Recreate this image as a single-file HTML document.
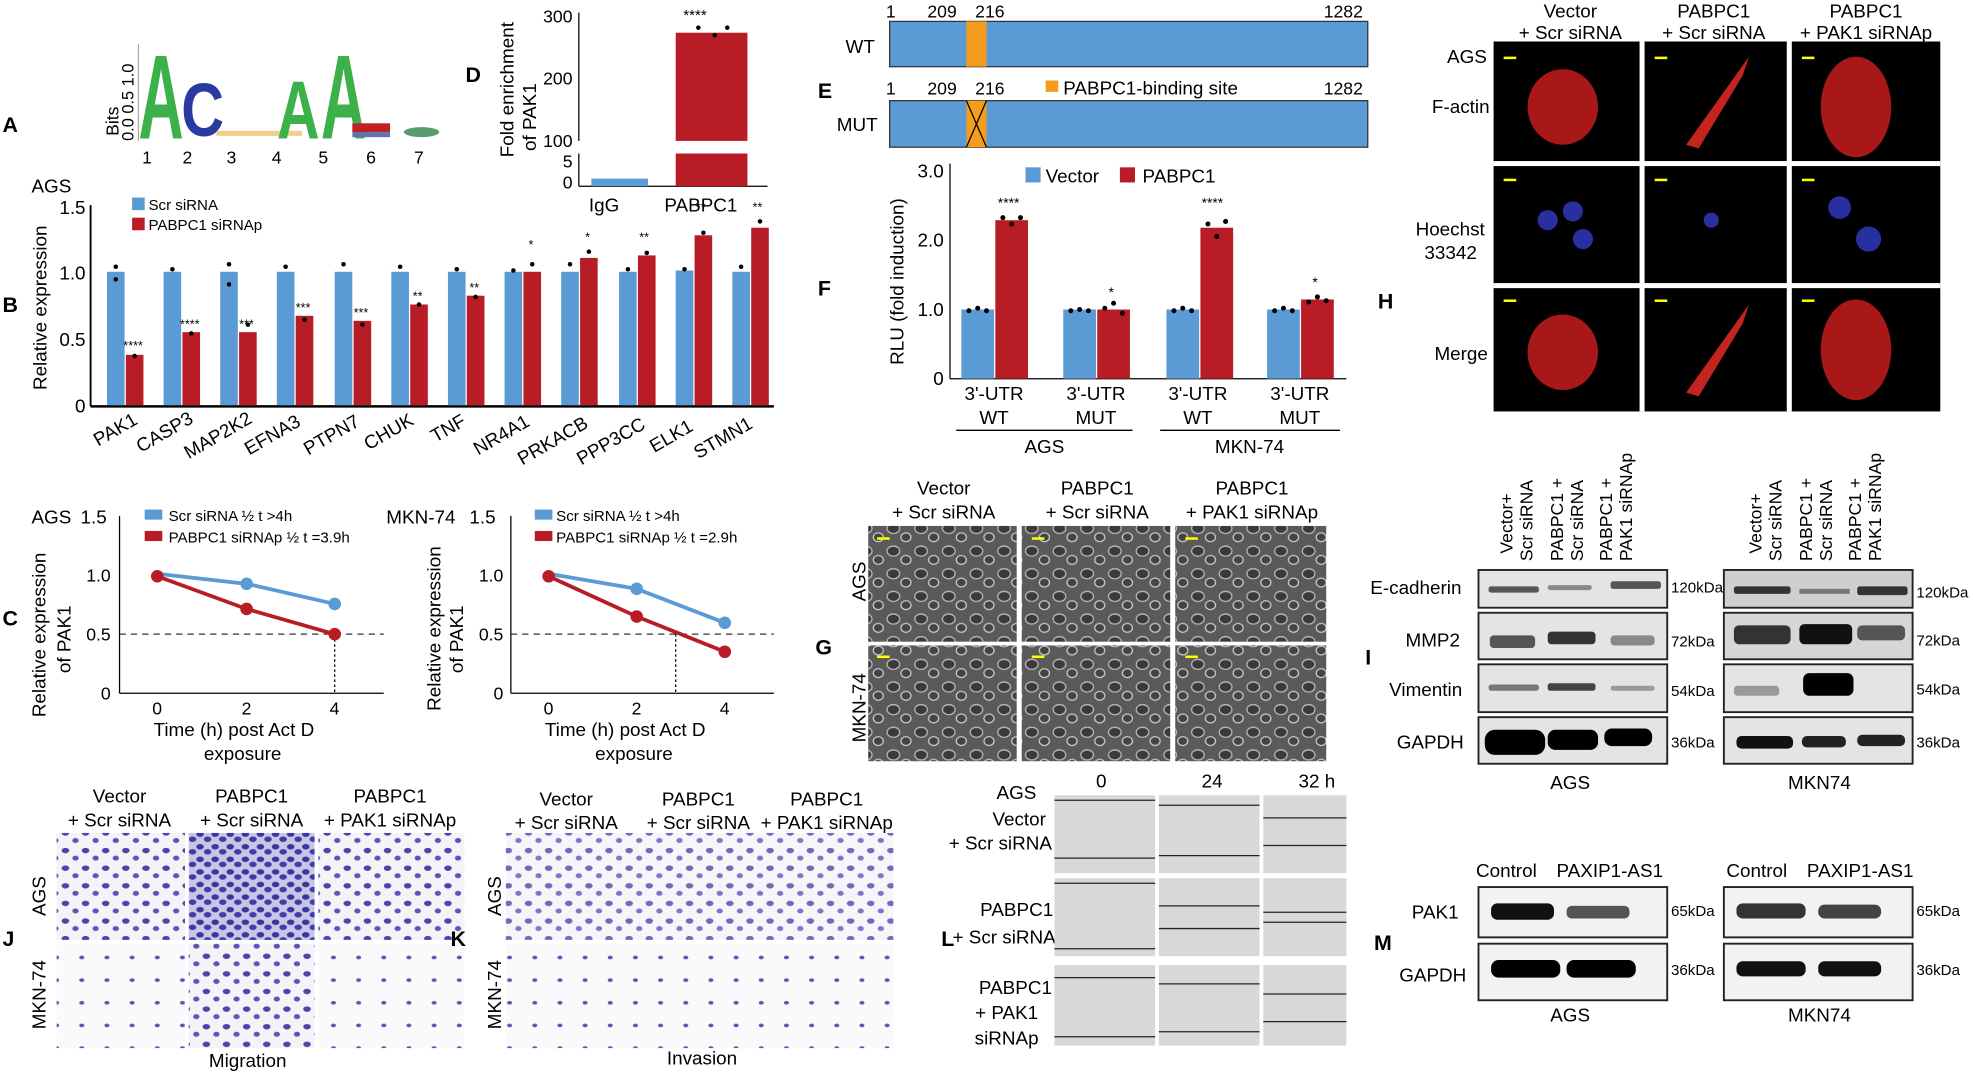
<!DOCTYPE html>
<html><head><meta charset="utf-8"><style>
html,body{margin:0;padding:0;background:#fff;}
svg{display:block;font-family:"Liberation Sans",Arial,sans-serif;}
</style></head><body>
<svg width="1973" height="1072" viewBox="0 0 1568 852" preserveAspectRatio="none" xmlns="http://www.w3.org/2000/svg">
<defs>
<pattern id="cells" width="22" height="18" patternUnits="userSpaceOnUse">
<rect width="22" height="18" fill="#5a5a5a"/>
<ellipse cx="6" cy="6" rx="5" ry="4" fill="#3a3a3a" stroke="#bbb" stroke-width="1"/>
<ellipse cx="16" cy="13" rx="4" ry="3.5" fill="#444" stroke="#ccc" stroke-width="1"/>
</pattern>
<pattern id="purp" width="16" height="14" patternUnits="userSpaceOnUse">
<rect width="16" height="14" fill="#f4f3f8"/>
<ellipse cx="4" cy="4" rx="3" ry="2.2" fill="#4a46a8"/>
<ellipse cx="12" cy="10" rx="2.5" ry="2" fill="#5a56b8"/>
</pattern>
<pattern id="purpd" width="12" height="10" patternUnits="userSpaceOnUse">
<rect width="12" height="10" fill="#c8c6e6"/>
<ellipse cx="3" cy="3" rx="3" ry="2.2" fill="#3a36a0"/>
<ellipse cx="9" cy="7" rx="3" ry="2.2" fill="#403ca8"/>
</pattern>
<pattern id="purps" width="20" height="18" patternUnits="userSpaceOnUse">
<rect width="20" height="18" fill="#fafafc"/>
<ellipse cx="5" cy="5" rx="2" ry="1.5" fill="#5a56b8"/>
</pattern>
</defs>
<g font-size="15" fill="#000">
<!-- A -->
<text x="2" y="105" font-size="17" font-weight="bold">A</text>
<text transform="translate(94,108) rotate(-90)" font-size="14">Bits</text>
<text transform="translate(106,112) rotate(-90)" font-size="13">0.0 0.5 1.0</text>
<line x1="110" y1="35" x2="110" y2="112" stroke="#aaa"/>
<text x="110" y="110" font-size="95" font-weight="bold" fill="#3cb14a" textLength="36" lengthAdjust="spacingAndGlyphs">A</text>
<text x="144" y="108" font-size="60" font-weight="bold" fill="#2a3aa0" textLength="34" lengthAdjust="spacingAndGlyphs">C</text>
<rect x="172" y="104" width="68" height="4" fill="#e3b040" opacity=".6"/>
<text x="220" y="110" font-size="66" font-weight="bold" fill="#3cb14a" textLength="34" lengthAdjust="spacingAndGlyphs">A</text>
<text x="255" y="110" font-size="95" font-weight="bold" fill="#3cb14a" textLength="36" lengthAdjust="spacingAndGlyphs">A</text>
<rect x="280" y="98" width="30" height="7" fill="#c02020"/><rect x="280" y="105" width="30" height="4" fill="#6070b0"/>
<ellipse cx="335" cy="105" rx="14" ry="4" fill="#5a9a70"/>
<g font-size="14"><text x="113" y="130">1</text><text x="145" y="130">2</text><text x="180" y="130">3</text><text x="216" y="130">4</text><text x="253" y="130">5</text><text x="291" y="130">6</text><text x="329" y="130">7</text></g>

<!-- D -->
<text x="370" y="65" font-size="17" font-weight="bold">D</text>
<text transform="translate(408,125) rotate(-90)" font-size="15">Fold enrichment</text>
<text transform="translate(426,120) rotate(-90)" font-size="15">of PAK1</text>
<g font-size="14" text-anchor="end"><text x="455" y="18">300</text><text x="455" y="67">200</text><text x="455" y="117">100</text><text x="455" y="133">5</text><text x="455" y="150">0</text></g>
<line x1="460" y1="10" x2="460" y2="112" stroke="#000"/><line x1="460" y1="122" x2="460" y2="148" stroke="#000"/>
<line x1="460" y1="148" x2="610" y2="148" stroke="#000"/>
<rect x="470" y="142" width="45" height="6" fill="#5b9bd5"/>
<rect x="537" y="26" width="57" height="86" fill="#b81d25"/><rect x="537" y="122" width="57" height="26" fill="#b81d25"/>
<circle cx="555" cy="22" r="1.8"/><circle cx="568" cy="28" r="1.8"/><circle cx="578" cy="22" r="1.8"/>
<text x="543" y="16" font-size="12">****</text>
<text x="468" y="168" font-size="15">IgG</text><text x="528" y="168" font-size="15">PABPC1</text>

<!-- B -->
<text x="2" y="248" font-size="17" font-weight="bold">B</text>
<text x="25" y="153" font-size="15">AGS</text>
<text transform="translate(37,310) rotate(-90)" font-size="15">Relative expression</text>
<g font-size="15" text-anchor="end"><text x="68" y="170">1.5</text><text x="68" y="222">1.0</text><text x="68" y="275">0.5</text><text x="68" y="328">0</text></g>
<line x1="72" y1="163" x2="72" y2="323" stroke="#000" stroke-width="1.5"/>
<line x1="72" y1="323" x2="615" y2="323" stroke="#000" stroke-width="2"/>
<rect x="105" y="157" width="10" height="10" fill="#5b9bd5"/><text x="118" y="167" font-size="12">Scr siRNA</text>
<rect x="105" y="173" width="10" height="10" fill="#b81d25"/><text x="118" y="183" font-size="12">PABPC1 siRNAp</text>
<g fill="#5b9bd5">
<rect x="85" y="216" width="14" height="106"/><rect x="130" y="216" width="14" height="106"/><rect x="175" y="216" width="14" height="106"/><rect x="220" y="216" width="14" height="106"/><rect x="266" y="216" width="14" height="106"/><rect x="311" y="216" width="14" height="106"/><rect x="356" y="216" width="14" height="106"/><rect x="401" y="216" width="14" height="106"/><rect x="446" y="216" width="14" height="106"/><rect x="492" y="216" width="14" height="106"/><rect x="537" y="215" width="14" height="107"/><rect x="582" y="216" width="14" height="106"/>
</g>
<g fill="#b81d25">
<rect x="100" y="282" width="14" height="40"/><rect x="145" y="264" width="14" height="58"/><rect x="190" y="264" width="14" height="58"/><rect x="235" y="251" width="14" height="71"/><rect x="281" y="255" width="14" height="67"/><rect x="326" y="242" width="14" height="80"/><rect x="371" y="235" width="14" height="87"/><rect x="416" y="216" width="14" height="106"/><rect x="461" y="205" width="14" height="117"/><rect x="507" y="203" width="14" height="119"/><rect x="552" y="187" width="14" height="135"/><rect x="597" y="181" width="14" height="141"/>
</g>
<g>
<circle cx="92" cy="212" r="1.8"/><circle cx="92" cy="222" r="1.8"/><circle cx="137" cy="214" r="1.8"/><circle cx="182" cy="210" r="1.8"/><circle cx="182" cy="226" r="1.8"/><circle cx="227" cy="212" r="1.8"/><circle cx="273" cy="210" r="1.8"/><circle cx="318" cy="212" r="1.8"/><circle cx="363" cy="214" r="1.8"/><circle cx="408" cy="215" r="1.8"/><circle cx="453" cy="210" r="1.8"/><circle cx="499" cy="214" r="1.8"/><circle cx="544" cy="214" r="1.8"/><circle cx="589" cy="212" r="1.8"/>
<circle cx="107" cy="283" r="1.8"/><circle cx="152" cy="265" r="1.8"/><circle cx="197" cy="258" r="1.8"/><circle cx="242" cy="254" r="1.8"/><circle cx="288" cy="258" r="1.8"/><circle cx="333" cy="242" r="1.8"/><circle cx="378" cy="236" r="1.8"/><circle cx="423" cy="210" r="1.8"/><circle cx="468" cy="200" r="1.8"/><circle cx="514" cy="201" r="1.8"/><circle cx="559" cy="185" r="1.8"/><circle cx="604" cy="176" r="1.8"/>
</g>
<g font-size="10">
<text x="98" y="278">****</text><text x="143" y="261">****</text><text x="190" y="261">***</text><text x="235" y="248">***</text><text x="281" y="252">***</text><text x="328" y="239">**</text><text x="373" y="232">**</text><text x="420" y="198">*</text><text x="465" y="192">*</text><text x="508" y="192">**</text><text x="553" y="168">**</text><text x="598" y="168">**</text>
</g>
<g font-size="15">
<text transform="translate(78,355) rotate(-30)">PAK1</text><text transform="translate(112,360) rotate(-30)">CASP3</text><text transform="translate(150,365) rotate(-30)">MAP2K2</text><text transform="translate(198,362) rotate(-30)">EFNA3</text><text transform="translate(245,362) rotate(-30)">PTPN7</text><text transform="translate(293,358) rotate(-30)">CHUK</text><text transform="translate(346,352) rotate(-30)">TNF</text><text transform="translate(380,362) rotate(-30)">NR4A1</text><text transform="translate(415,370) rotate(-30)">PRKACB</text><text transform="translate(462,370) rotate(-30)">PPP3CC</text><text transform="translate(520,360) rotate(-30)">ELK1</text><text transform="translate(555,365) rotate(-30)">STMN1</text>
</g>

<!-- C -->
<text x="2" y="497" font-size="17" font-weight="bold">C</text>
<text x="25" y="416" font-size="15">AGS</text><text x="64" y="416" font-size="15">1.5</text>
<text transform="translate(36,570) rotate(-90)" font-size="15">Relative expression</text>
<text transform="translate(56,535) rotate(-90)" font-size="15">of PAK1</text>
<g font-size="14" text-anchor="end"><text x="88" y="462">1.0</text><text x="88" y="509">0.5</text><text x="88" y="556">0</text></g>
<line x1="95" y1="410" x2="95" y2="551" stroke="#000"/><line x1="95" y1="551" x2="305" y2="551" stroke="#000"/>
<line x1="95" y1="504" x2="305" y2="504" stroke="#333" stroke-dasharray="5,4"/>
<line x1="266" y1="504" x2="266" y2="551" stroke="#000" stroke-dasharray="2,2"/>
<rect x="115" y="405" width="14" height="8" fill="#5b9bd5"/><text x="134" y="414" font-size="12">Scr siRNA ½ t &gt;4h</text>
<rect x="115" y="422" width="14" height="8" fill="#b81d25"/><text x="134" y="431" font-size="12">PABPC1 siRNAp ½ t =3.9h</text>
<polyline points="125,456 196,464 266,480" fill="none" stroke="#5b9bd5" stroke-width="3"/>
<polyline points="125,458 196,484 266,504" fill="none" stroke="#b81d25" stroke-width="3"/>
<circle cx="196" cy="464" r="5" fill="#5b9bd5"/><circle cx="266" cy="480" r="5" fill="#5b9bd5"/>
<circle cx="125" cy="458" r="5" fill="#b81d25"/><circle cx="196" cy="484" r="5" fill="#b81d25"/><circle cx="266" cy="504" r="5" fill="#b81d25"/>
<g font-size="14"><text x="121" y="568">0</text><text x="192" y="568">2</text><text x="262" y="568">4</text></g>
<text x="122" y="585" font-size="15">Time (h) post Act D</text><text x="162" y="604" font-size="15">exposure</text>

<text x="307" y="416" font-size="15">MKN-74</text><text x="373" y="416" font-size="15">1.5</text>
<text transform="translate(350,565) rotate(-90)" font-size="15">Relative expression</text>
<text transform="translate(368,535) rotate(-90)" font-size="15">of PAK1</text>
<g font-size="14" text-anchor="end"><text x="400" y="462">1.0</text><text x="400" y="509">0.5</text><text x="400" y="556">0</text></g>
<line x1="406" y1="410" x2="406" y2="551" stroke="#000"/><line x1="406" y1="551" x2="615" y2="551" stroke="#000"/>
<line x1="406" y1="504" x2="615" y2="504" stroke="#333" stroke-dasharray="5,4"/>
<line x1="537" y1="504" x2="537" y2="551" stroke="#000" stroke-dasharray="2,2"/>
<rect x="425" y="405" width="14" height="8" fill="#5b9bd5"/><text x="442" y="414" font-size="12">Scr siRNA ½ t &gt;4h</text>
<rect x="425" y="422" width="14" height="8" fill="#b81d25"/><text x="442" y="431" font-size="12">PABPC1 siRNAp ½ t =2.9h</text>
<polyline points="436,456 506,468 576,495" fill="none" stroke="#5b9bd5" stroke-width="3"/>
<polyline points="436,458 506,490 576,518" fill="none" stroke="#b81d25" stroke-width="3"/>
<circle cx="506" cy="468" r="5" fill="#5b9bd5"/><circle cx="576" cy="495" r="5" fill="#5b9bd5"/>
<circle cx="436" cy="458" r="5" fill="#b81d25"/><circle cx="506" cy="490" r="5" fill="#b81d25"/><circle cx="576" cy="518" r="5" fill="#b81d25"/>
<g font-size="14"><text x="432" y="568">0</text><text x="502" y="568">2</text><text x="572" y="568">4</text></g>
<text x="433" y="585" font-size="15">Time (h) post Act D</text><text x="473" y="604" font-size="15">exposure</text>

<!-- E -->
<text x="650" y="78" font-size="17" font-weight="bold">E</text>
<text x="704" y="14" font-size="14">1</text><text x="737" y="14" font-size="14">209</text><text x="775" y="14" font-size="14">216</text><text x="1052" y="14" font-size="14">1282</text>
<text x="672" y="42" font-size="15">WT</text>
<rect x="707" y="17" width="380" height="36" fill="#5b9bd5" stroke="#333"/><rect x="768" y="17" width="16" height="36" fill="#f39c1e"/>
<text x="704" y="75" font-size="14">1</text><text x="737" y="75" font-size="14">209</text><text x="775" y="75" font-size="14">216</text><text x="1052" y="75" font-size="14">1282</text>
<rect x="831" y="64" width="10" height="9" fill="#f39c1e"/><text x="845" y="75" font-size="15">PABPC1-binding site</text>
<text x="665" y="104" font-size="15">MUT</text>
<rect x="707" y="80" width="380" height="37" fill="#5b9bd5" stroke="#333"/><rect x="768" y="80" width="16" height="37" fill="#f39c1e"/>
<line x1="768" y1="80" x2="784" y2="117" stroke="#000"/><line x1="784" y1="80" x2="768" y2="117" stroke="#000"/>

<!-- F -->
<text x="650" y="235" font-size="17" font-weight="bold">F</text>
<text transform="translate(718,290) rotate(-90)" font-size="15">RLU (fold induction)</text>
<g font-size="15" text-anchor="end"><text x="750" y="141">3.0</text><text x="750" y="196">2.0</text><text x="750" y="251">1.0</text><text x="750" y="306">0</text></g>
<line x1="755" y1="130" x2="755" y2="301" stroke="#000"/><line x1="755" y1="301" x2="1070" y2="301" stroke="#000"/>
<rect x="815" y="133" width="12" height="12" fill="#5b9bd5"/><text x="831" y="145" font-size="15">Vector</text>
<rect x="890" y="133" width="12" height="12" fill="#b81d25"/><text x="908" y="145" font-size="15">PABPC1</text>
<g fill="#5b9bd5"><rect x="764" y="246" width="26" height="55"/><rect x="845" y="246" width="26" height="55"/><rect x="927" y="246" width="26" height="55"/><rect x="1007" y="246" width="26" height="55"/></g>
<g fill="#b81d25"><rect x="791" y="175" width="26" height="126"/><rect x="872" y="246" width="26" height="55"/><rect x="954" y="181" width="26" height="120"/><rect x="1034" y="238" width="26" height="63"/></g>
<g><circle cx="797" cy="173" r="2"/><circle cx="804" cy="178" r="2"/><circle cx="811" cy="173" r="2"/><circle cx="878" cy="245" r="2"/><circle cx="885" cy="241" r="2"/><circle cx="892" cy="249" r="2"/><circle cx="960" cy="178" r="2"/><circle cx="967" cy="188" r="2"/><circle cx="974" cy="176" r="2"/><circle cx="1040" cy="240" r="2"/><circle cx="1047" cy="236" r="2"/><circle cx="1054" cy="239" r="2"/>
<circle cx="770" cy="247" r="2"/><circle cx="777" cy="245" r="2"/><circle cx="784" cy="247" r="2"/><circle cx="851" cy="247" r="2"/><circle cx="858" cy="246" r="2"/><circle cx="865" cy="247" r="2"/><circle cx="933" cy="247" r="2"/><circle cx="940" cy="245" r="2"/><circle cx="947" cy="247" r="2"/><circle cx="1013" cy="247" r="2"/><circle cx="1020" cy="245" r="2"/><circle cx="1027" cy="247" r="2"/></g>
<g font-size="11"><text x="793" y="165">****</text><text x="881" y="236">*</text><text x="955" y="165">****</text><text x="1043" y="228">*</text></g>
<g font-size="15" text-anchor="middle"><text x="790" y="318">3'-UTR</text><text x="790" y="337">WT</text><text x="871" y="318">3'-UTR</text><text x="871" y="337">MUT</text><text x="952" y="318">3'-UTR</text><text x="952" y="337">WT</text><text x="1033" y="318">3'-UTR</text><text x="1033" y="337">MUT</text>
<text x="830" y="360">AGS</text><text x="993" y="360">MKN-74</text></g>
<line x1="760" y1="342" x2="900" y2="342" stroke="#000"/><line x1="922" y1="342" x2="1065" y2="342" stroke="#000"/>

<!-- G -->
<g font-size="15" text-anchor="middle"><text x="750" y="393">Vector</text><text x="750" y="412">+ Scr siRNA</text><text x="872" y="393">PABPC1</text><text x="872" y="412">+ Scr siRNA</text><text x="995" y="393">PABPC1</text><text x="995" y="412">+ PAK1 siRNAp</text></g>
<text x="648" y="520" font-size="17" font-weight="bold">G</text>
<text transform="translate(688,478) rotate(-90)" font-size="15">AGS</text>
<text transform="translate(688,590) rotate(-90)" font-size="15">MKN-74</text>
<g fill="url(#cells)"><rect x="690" y="418" width="118" height="92"/><rect x="812" y="418" width="118" height="92"/><rect x="934" y="418" width="120" height="92"/><rect x="690" y="513" width="118" height="92"/><rect x="812" y="513" width="118" height="92"/><rect x="934" y="513" width="120" height="92"/></g>
<g fill="#ff0"><rect x="697" y="427" width="10" height="2"/><rect x="820" y="427" width="10" height="2"/><rect x="942" y="427" width="10" height="2"/><rect x="697" y="521" width="10" height="2"/><rect x="820" y="521" width="10" height="2"/><rect x="942" y="521" width="10" height="2"/></g>

<!-- H -->
<g font-size="15" text-anchor="middle"><text x="1248" y="14">Vector</text><text x="1248" y="31">+ Scr siRNA</text><text x="1362" y="14">PABPC1</text><text x="1362" y="31">+ Scr siRNA</text><text x="1483" y="14">PABPC1</text><text x="1483" y="31">+ PAK1 siRNAp</text></g>
<text x="1150" y="50" font-size="15">AGS</text><text x="1138" y="90" font-size="15">F-actin</text>
<text x="1125" y="187" font-size="15">Hoechst</text><text x="1132" y="206" font-size="15">33342</text>
<text x="1140" y="286" font-size="15">Merge</text>
<text x="1095" y="245" font-size="17" font-weight="bold">H</text>
<rect x="1187" y="33" width="355" height="294" fill="#000"/>
<rect x="1303" y="33" width="4" height="294" fill="#fff"/><rect x="1420" y="33" width="4" height="294" fill="#fff"/>
<rect x="1187" y="128" width="355" height="4" fill="#fff"/><rect x="1187" y="225" width="355" height="4" fill="#fff"/>
<ellipse cx="1242" cy="85" rx="28" ry="30" fill="#a81818"/><path d="M1340,115 L1390,45 L1385,60 L1350,118 Z" fill="#c42420"/>
<ellipse cx="1475" cy="85" rx="28" ry="40" fill="#a81818"/>
<circle cx="1230" cy="175" r="8" fill="#2830a0"/><circle cx="1250" cy="168" r="8" fill="#2830a0"/><circle cx="1258" cy="190" r="8" fill="#2830a0"/><circle cx="1360" cy="175" r="6" fill="#2830a0"/><circle cx="1462" cy="165" r="9" fill="#2830a0"/><circle cx="1485" cy="190" r="10" fill="#2830a0"/>
<ellipse cx="1242" cy="280" rx="28" ry="30" fill="#a81818"/><path d="M1340,312 L1390,242 L1385,257 L1350,315 Z" fill="#c42420"/>
<ellipse cx="1475" cy="278" rx="28" ry="40" fill="#a81818"/>
<g fill="#ff0"><rect x="1195" y="45" width="10" height="2"/><rect x="1315" y="45" width="10" height="2"/><rect x="1432" y="45" width="10" height="2"/><rect x="1195" y="142" width="10" height="2"/><rect x="1315" y="142" width="10" height="2"/><rect x="1432" y="142" width="10" height="2"/><rect x="1195" y="238" width="10" height="2"/><rect x="1315" y="238" width="10" height="2"/><rect x="1432" y="238" width="10" height="2"/></g>

<!-- I -->
<g font-size="14">
<text transform="translate(1202,440) rotate(-90)">Vector+</text><text transform="translate(1218,446) rotate(-90)">Scr siRNA</text>
<text transform="translate(1242,446) rotate(-90)">PABPC1 +</text><text transform="translate(1258,446) rotate(-90)">Scr siRNA</text>
<text transform="translate(1281,446) rotate(-90)">PABPC1 +</text><text transform="translate(1297,446) rotate(-90)">PAK1 siRNAp</text>
<text transform="translate(1400,440) rotate(-90)">Vector+</text><text transform="translate(1416,446) rotate(-90)">Scr siRNA</text>
<text transform="translate(1440,446) rotate(-90)">PABPC1 +</text><text transform="translate(1456,446) rotate(-90)">Scr siRNA</text>
<text transform="translate(1479,446) rotate(-90)">PABPC1 +</text><text transform="translate(1495,446) rotate(-90)">PAK1 siRNAp</text>
</g>
<text x="1089" y="472" font-size="15">E-cadherin</text><text x="1117" y="514" font-size="15">MMP2</text><text x="1104" y="553" font-size="15">Vimentin</text><text x="1110" y="595" font-size="15">GAPDH</text>
<text x="1085" y="528" font-size="17" font-weight="bold">I</text>
<g fill="#e4e4e4" stroke="#222" stroke-width="1.5">
<rect x="1175" y="453" width="150" height="30"/><rect x="1175" y="487" width="150" height="37"/><rect x="1175" y="528" width="150" height="38"/><rect x="1175" y="570" width="150" height="37"/>
<rect x="1370" y="453" width="150" height="30" fill="#cfcfcf"/><rect x="1370" y="487" width="150" height="37" fill="#d6d6d6"/><rect x="1370" y="528" width="150" height="38"/><rect x="1370" y="570" width="150" height="37"/>
</g>
<g fill="#555">
<rect x="1183" y="466" width="40" height="5" rx="2"/><rect x="1230" y="465" width="35" height="4" rx="2" fill="#888"/><rect x="1280" y="462" width="40" height="6" rx="2"/>
<rect x="1184" y="505" width="36" height="10" rx="3"/><rect x="1230" y="502" width="38" height="10" rx="3" fill="#333"/><rect x="1280" y="505" width="35" height="8" rx="3" fill="#888"/>
<rect x="1183" y="544" width="40" height="5" rx="2" fill="#777"/><rect x="1230" y="543" width="38" height="6" rx="2" fill="#444"/><rect x="1280" y="545" width="35" height="4" rx="2" fill="#999"/>
<rect x="1180" y="580" width="48" height="20" rx="8" fill="#000"/><rect x="1230" y="580" width="40" height="16" rx="6" fill="#000"/><rect x="1275" y="579" width="38" height="14" rx="6" fill="#000"/>
<rect x="1378" y="466" width="45" height="6" rx="2" fill="#333"/><rect x="1430" y="468" width="40" height="4" fill="#777"/><rect x="1476" y="466" width="40" height="7" rx="2" fill="#333"/>
<rect x="1378" y="497" width="45" height="15" rx="4" fill="#333"/><rect x="1430" y="496" width="42" height="16" rx="4" fill="#111"/><rect x="1476" y="497" width="38" height="12" rx="4" fill="#555"/>
<rect x="1378" y="545" width="36" height="8" rx="3" fill="#999"/><rect x="1433" y="535" width="40" height="18" rx="5" fill="#000"/>
<rect x="1380" y="585" width="45" height="10" rx="4" fill="#111"/><rect x="1432" y="585" width="35" height="9" rx="4" fill="#222"/><rect x="1476" y="584" width="38" height="9" rx="4" fill="#222"/>
</g>
<g font-size="12"><text x="1328" y="471">120kDa</text><text x="1328" y="514">72kDa</text><text x="1328" y="553">54kDa</text><text x="1328" y="594">36kDa</text>
<text x="1523" y="475">120kDa</text><text x="1523" y="513">72kDa</text><text x="1523" y="552">54kDa</text><text x="1523" y="594">36kDa</text></g>
<text x="1232" y="627" font-size="15">AGS</text><text x="1421" y="627" font-size="15">MKN74</text>

<!-- M -->
<text x="1173" y="697" font-size="15">Control</text><text x="1237" y="697" font-size="15">PAXIP1-AS1</text>
<text x="1372" y="697" font-size="15">Control</text><text x="1436" y="697" font-size="15">PAXIP1-AS1</text>
<text x="1122" y="730" font-size="15">PAK1</text><text x="1112" y="780" font-size="15">GAPDH</text>
<text x="1092" y="755" font-size="17" font-weight="bold">M</text>
<g fill="#f2f2f2" stroke="#222" stroke-width="1.5">
<rect x="1175" y="705" width="150" height="40"/><rect x="1175" y="750" width="150" height="45"/>
<rect x="1370" y="705" width="150" height="40"/><rect x="1370" y="750" width="150" height="45"/>
</g>
<rect x="1185" y="718" width="50" height="13" rx="5" fill="#111"/><rect x="1245" y="720" width="50" height="10" rx="4" fill="#555"/>
<rect x="1185" y="763" width="55" height="14" rx="6" fill="#000"/><rect x="1245" y="763" width="55" height="14" rx="6" fill="#000"/>
<rect x="1380" y="718" width="55" height="12" rx="5" fill="#333"/><rect x="1445" y="719" width="50" height="11" rx="5" fill="#444"/>
<rect x="1380" y="764" width="55" height="12" rx="5" fill="#111"/><rect x="1445" y="764" width="50" height="12" rx="5" fill="#111"/>
<g font-size="12"><text x="1328" y="728">65kDa</text><text x="1328" y="775">36kDa</text><text x="1523" y="728">65kDa</text><text x="1523" y="775">36kDa</text></g>
<text x="1232" y="812" font-size="15">AGS</text><text x="1421" y="812" font-size="15">MKN74</text>

<!-- J -->
<g font-size="15" text-anchor="middle"><text x="95" y="638">Vector</text><text x="95" y="657">+ Scr siRNA</text><text x="200" y="638">PABPC1</text><text x="200" y="657">+ Scr siRNA</text><text x="310" y="638">PABPC1</text><text x="310" y="657">+ PAK1 siRNAp</text></g>
<text x="2" y="752" font-size="17" font-weight="bold">J</text>
<text transform="translate(36,728) rotate(-90)" font-size="15">AGS</text>
<text transform="translate(36,818) rotate(-90)" font-size="15">MKN-74</text>
<rect x="45" y="662" width="102" height="85" fill="url(#purp)"/><rect x="150" y="662" width="100" height="85" fill="url(#purpd)"/><rect x="253" y="662" width="116" height="85" fill="url(#purp)"/>
<rect x="45" y="750" width="102" height="83" fill="url(#purps)"/><rect x="150" y="750" width="100" height="83" fill="url(#purp)"/><rect x="253" y="750" width="116" height="83" fill="url(#purps)"/>
<text x="166" y="848" font-size="15">Migration</text>

<!-- K -->
<g font-size="15" text-anchor="middle"><text x="450" y="640">Vector</text><text x="450" y="659">+ Scr siRNA</text><text x="555" y="640">PABPC1</text><text x="555" y="659">+ Scr siRNA</text><text x="657" y="640">PABPC1</text><text x="657" y="659">+ PAK1 siRNAp</text></g>
<text x="358" y="752" font-size="17" font-weight="bold">K</text>
<text transform="translate(398,728) rotate(-90)" font-size="15">AGS</text>
<text transform="translate(398,818) rotate(-90)" font-size="15">MKN-74</text>
<rect x="402" y="662" width="308" height="85" fill="url(#purp)" opacity=".8"/>
<rect x="402" y="750" width="308" height="83" fill="url(#purps)"/>
<text x="530" y="846" font-size="15">Invasion</text>

<!-- L -->
<text x="792" y="635" font-size="15">AGS</text>
<text x="871" y="626" font-size="15">0</text><text x="955" y="626" font-size="15">24</text><text x="1032" y="626" font-size="15">32 h</text>
<g font-size="15" text-anchor="middle"><text x="810" y="656">Vector</text><text x="795" y="675">+ Scr siRNA</text><text x="808" y="728">PABPC1</text><text x="798" y="750">+ Scr siRNA</text><text x="807" y="790">PABPC1</text><text x="800" y="810">+ PAK1</text><text x="800" y="830">siRNAp</text></g>
<text x="748" y="752" font-size="17" font-weight="bold">L</text>
<g fill="#d8d8d8"><rect x="838" y="632" width="80" height="62"/><rect x="921" y="632" width="80" height="62"/><rect x="1004" y="632" width="66" height="62"/>
<rect x="838" y="698" width="80" height="62"/><rect x="921" y="698" width="80" height="62"/><rect x="1004" y="698" width="66" height="62"/>
<rect x="838" y="767" width="80" height="64"/><rect x="921" y="767" width="80" height="64"/><rect x="1004" y="767" width="66" height="64"/></g>
<g stroke="#222" stroke-width="1">
<line x1="838" y1="636" x2="918" y2="636"/><line x1="838" y1="682" x2="918" y2="682"/><line x1="921" y1="640" x2="1001" y2="640"/><line x1="921" y1="680" x2="1001" y2="680"/><line x1="1004" y1="650" x2="1070" y2="650"/><line x1="1004" y1="672" x2="1070" y2="672"/>
<line x1="838" y1="702" x2="918" y2="702"/><line x1="838" y1="754" x2="918" y2="754"/><line x1="921" y1="720" x2="1001" y2="720"/><line x1="921" y1="738" x2="1001" y2="738"/><line x1="1004" y1="725" x2="1070" y2="725"/><line x1="1004" y1="733" x2="1070" y2="733"/>
<line x1="838" y1="777" x2="918" y2="777"/><line x1="838" y1="824" x2="918" y2="824"/><line x1="921" y1="782" x2="1001" y2="782"/><line x1="921" y1="820" x2="1001" y2="820"/><line x1="1004" y1="790" x2="1070" y2="790"/><line x1="1004" y1="812" x2="1070" y2="812"/>
</g>
</g>
</svg>
</body></html>
